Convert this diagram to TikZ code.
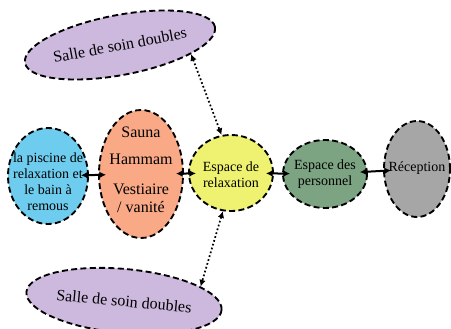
\documentclass[tikz,border=0pt]{standalone}
\usepackage{fontspec}
\setmainfont{Liberation Serif}
\usepackage{xcolor}
\usetikzlibrary{arrows.meta,shapes.geometric}
\definecolor{soinpurple}{RGB}{205,184,222}
\definecolor{piscineblue}{RGB}{110,204,238}
\definecolor{saunaorange}{RGB}{249,169,134}
\definecolor{relaxyellow}{RGB}{238,242,112}
\definecolor{staffgreen}{RGB}{124,164,130}
\definecolor{accueilgray}{RGB}{166,166,166}
\tikzset{
  zonebox/.style={ellipse,draw=black,line width=1.4pt,dash pattern=on 4.5pt off 2.5pt,inner sep=0pt},
  zonetext/.style={align=center,font=\fontsize{10.5}{12}\selectfont},
  bigtext/.style={align=center,font=\fontsize{12}{13.5}\selectfont},
  linkarrow/.style={{Latex[length=5pt,width=5pt]}-{Latex[length=5pt,width=5pt]},line width=1.5pt,
    shorten <=-6pt,shorten >=-6pt},
  dotarrow/.style={{Latex[length=5pt,width=5pt]}-{Latex[length=5pt,width=5pt]},line width=1.3pt,
    dash pattern=on 1.3pt off 1.7pt}
}

\begin{document}
\begin{tikzpicture}[x=0.75pt,y=-0.75pt]
  \useasboundingbox (0,0) rectangle (451,329);
  % zones
  \node[zonebox,fill=soinpurple,minimum width=145pt,minimum height=45pt,rotate=10.7,
    font=\fontsize{12}{14}\selectfont] (soinhaut) at (120,45) {Salle de soin doubles};
  \node[zonebox,fill=piscineblue,minimum width=60pt,minimum height=72pt,
    label={[zonetext,yshift=-4pt]center:la piscine de\\relaxation et\\le bain à\\remous}] (piscine) at (48,176) {};
  \node[zonebox,fill=saunaorange,minimum width=63pt,minimum height=96pt,
    label={[bigtext,yshift=3pt]center:Sauna\\[7pt]Hammam\\[9pt]Vestiaire\\/ vanité}] (sauna) at (141,174) {};
  \node[zonebox,fill=relaxyellow,minimum width=63pt,minimum height=57pt,
    label={[zonetext,yshift=-1pt]center:Espace de\\relaxation}] (relax) at (231,173) {};
  \node[zonebox,fill=staffgreen,minimum width=63pt,minimum height=51pt,
    label={[zonetext]center:Espace des\\personnel}] (staff) at (325,174) {};
  \node[zonebox,fill=accueilgray,minimum width=49.5pt,minimum height=72pt,
    label={[zonetext,yshift=1pt]center:Réception}] (accueil) at (417,169) {};
  \node[zonebox,fill=soinpurple,minimum width=147pt,minimum height=48pt,rotate=-5.3,
    font=\fontsize{12}{14}\selectfont] (soinbas) at (124,301) {Salle de soin doubles};
  % liaisons
  \draw[linkarrow] (piscine) -- (sauna);
  \draw[linkarrow] (sauna) -- (relax);
  \draw[linkarrow] (relax) -- (staff);
  \draw[linkarrow] (staff) -- (accueil);
  \draw[dotarrow] (soinhaut.-18) -- (relax.104);
  \draw[dotarrow] (relax.258) -- (soinbas.16);
\end{tikzpicture}
\end{document}
